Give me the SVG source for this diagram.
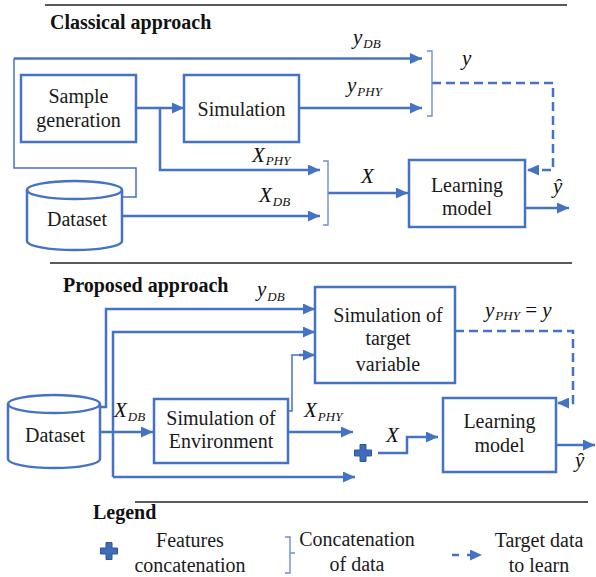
<svg xmlns="http://www.w3.org/2000/svg" width="596" height="577" viewBox="0 0 596 577">
<defs>
<marker id="ah" markerWidth="12" markerHeight="11" refX="12" refY="5.5" orient="auto" markerUnits="userSpaceOnUse"><path d="M0,0 L12,5.5 L0,11 z" fill="#4472C4"/></marker>
<path id="cross" d="M-3,-8.5 h6 v5.5 h5.5 v6 h-5.5 v5.5 h-6 v-5.5 h-5.5 v-6 h5.5 z" fill="#3F6CB8" stroke="#2F5597" stroke-width="1"/>
</defs>

<g id="separators" stroke="#222" stroke-width="1.5">
<line x1="45" y1="5" x2="567" y2="5"/>
<line x1="50" y1="263" x2="572" y2="263"/>
<line x1="135" y1="502" x2="588" y2="502"/>
</g>
<g id="headers" font-size="20" font-weight="bold" fill="#111">
<text x="50" y="29" font-family="'Liberation Serif'">Classical approach</text>
<text x="63" y="292" font-family="'Liberation Serif'">Proposed approach</text>
<text x="93" y="519" font-family="'Liberation Serif'">Legend</text>
</g>

<g id="connectors" fill="none" stroke="#4472C4" stroke-width="2.5">
<path stroke-width="1.5" d="M122,197 H136 V168 H14 V58.5"/>
<path d="M14,58.5 H422" marker-end="url(#ah)"/>
<path d="M136,108 H184" marker-end="url(#ah)"/>
<path d="M160,108 V170 H320" marker-end="url(#ah)"/>
<path d="M299,108 H422" marker-end="url(#ah)"/>
<path d="M122,216 H320" marker-end="url(#ah)"/>
<path d="M328,193 H408" marker-end="url(#ah)"/>
<path stroke-dasharray="9,5" d="M432,83 H553 V170 H527" marker-end="url(#ah)"/>
<path d="M525,208 H569" marker-end="url(#ah)"/>
<path stroke="#6E8FD0" stroke-width="1.4" d="M427,51 H432 V116 H427"/>
<path stroke="#6E8FD0" stroke-width="1.4" d="M323,161 H328 V225 H323"/>
<path d="M100,407 H106 V309 H315" marker-end="url(#ah)"/>
<path d="M113,477 V332 H315" marker-end="url(#ah)"/>
<path d="M113,477 H355" marker-end="url(#ah)"/>
<path d="M100,432 H153" marker-end="url(#ah)"/>
<path stroke-width="1.5" d="M288,411 H292 V355 H300"/>
<path d="M299,355 H315" marker-end="url(#ah)"/>
<path d="M288,432 H353" marker-end="url(#ah)"/>
<path d="M378,453 H407 V437 H438" marker-end="url(#ah)"/>
<path stroke-dasharray="9,5" d="M455,331 H573 V403 H557" marker-end="url(#ah)"/>
<path d="M556,445 H595" marker-end="url(#ah)"/>
</g>

<g id="labels" font-size="21" font-style="italic" fill="#111">
<text font-family="'Liberation Serif'" x="353" y="44">y<tspan font-size="13" dx="1" dy="4">DB</tspan></text>
<text font-family="'Liberation Serif'" x="347" y="92">y<tspan font-size="13" dx="1" dy="4">PHY</tspan></text>
<text font-family="'Liberation Serif'" x="462" y="65">y</text>
<text font-family="'Liberation Serif'" x="252" y="162">X<tspan font-size="13" dx="1" dy="3">PHY</tspan></text>
<text font-family="'Liberation Serif'" x="259" y="202">X<tspan font-size="13" dx="1" dy="4">DB</tspan></text>
<text font-family="'Liberation Serif'" x="361" y="183">X</text>
<text font-family="'Liberation Serif'" x="553" y="193">ŷ</text>
<text font-family="'Liberation Serif'" x="257" y="296">y<tspan font-size="13" dx="1" dy="5">DB</tspan></text>
<text font-family="'Liberation Serif'" x="485" y="317">y<tspan font-size="13" dx="1" dy="3">PHY</tspan><tspan dy="-3" font-style="normal"> = </tspan>y</text>
<text font-family="'Liberation Serif'" x="114" y="417">X<tspan font-size="13" dx="1" dy="4">DB</tspan></text>
<text font-family="'Liberation Serif'" x="304" y="417">X<tspan font-size="13" dx="1" dy="4">PHY</tspan></text>
<text font-family="'Liberation Serif'" x="386" y="442">X</text>
<text font-family="'Liberation Serif'" x="575" y="467">ŷ</text>
</g>

<g id="sample-generation" font-size="20" text-anchor="middle">
<rect x="21" y="75" width="115" height="67" fill="#fff" stroke="#4472C4" stroke-width="2.5"/>
<text font-family="'Liberation Serif'" fill="#1a1a1a" x="78.5" y="103">Sample</text>
<text font-family="'Liberation Serif'" fill="#1a1a1a" x="78.5" y="127">generation</text>
</g>
<g id="simulation" font-size="20" text-anchor="middle">
<rect x="184" y="75" width="115" height="67" fill="#fff" stroke="#4472C4" stroke-width="2.5"/>
<text font-family="'Liberation Serif'" fill="#1a1a1a" x="241.5" y="116">Simulation</text>
</g>
<g id="dataset-classical" font-size="20" text-anchor="middle">
<path d="M27,190 A47.5,9 0 0 1 122,190 V241 A47.5,9 0 0 1 27,241 Z" fill="#fff" stroke="#4472C4" stroke-width="2.5"/>
<path d="M27,190 A47.5,9 0 0 0 122,190" fill="none" stroke="#4472C4" stroke-width="2.5"/>
<text font-family="'Liberation Serif'" fill="#1a1a1a" x="77" y="226">Dataset</text>
</g>
<g id="learning-model-classical" font-size="20" text-anchor="middle">
<rect x="409" y="160" width="116" height="67" fill="#fff" stroke="#4472C4" stroke-width="2.5"/>
<text font-family="'Liberation Serif'" fill="#1a1a1a" x="467" y="192">Learning</text>
<text font-family="'Liberation Serif'" fill="#1a1a1a" x="467" y="215">model</text>
</g>

<g id="dataset-proposed" font-size="20" text-anchor="middle">
<path d="M8,404 A46,9 0 0 1 100,404 V459 A46,9 0 0 1 8,459 Z" fill="#fff" stroke="#4472C4" stroke-width="2.5"/>
<path d="M8,404 A46,9 0 0 0 100,404" fill="none" stroke="#4472C4" stroke-width="2.5"/>
<text font-family="'Liberation Serif'" fill="#1a1a1a" x="55" y="442">Dataset</text>
</g>
<g id="simulation-environment" font-size="20" text-anchor="middle">
<rect x="154" y="399" width="134" height="64" fill="#fff" stroke="#4472C4" stroke-width="2.5"/>
<text font-family="'Liberation Serif'" fill="#1a1a1a" x="221" y="425">Simulation of</text>
<text font-family="'Liberation Serif'" fill="#1a1a1a" x="221" y="448">Environment</text>
</g>
<g id="simulation-target" font-size="20" text-anchor="middle">
<rect x="315" y="287" width="140" height="96" fill="#fff" stroke="#4472C4" stroke-width="2.5"/>
<text font-family="'Liberation Serif'" fill="#1a1a1a" x="388" y="322">Simulation of</text>
<text font-family="'Liberation Serif'" fill="#1a1a1a" x="388" y="345">target</text>
<text font-family="'Liberation Serif'" fill="#1a1a1a" x="388" y="371">variable</text>
</g>
<g id="features-concatenation">
<use href="#cross" x="363" y="453"/>
</g>
<g id="learning-model-proposed" font-size="20" text-anchor="middle">
<rect x="443" y="398" width="113" height="74" fill="#fff" stroke="#4472C4" stroke-width="2.5"/>
<text font-family="'Liberation Serif'" fill="#1a1a1a" x="499.5" y="428">Learning</text>
<text font-family="'Liberation Serif'" fill="#1a1a1a" x="499.5" y="452">model</text>
</g>

<g id="legend" font-size="20" text-anchor="middle">
<use href="#cross" x="109" y="551"/>
<text font-family="'Liberation Serif'" fill="#1a1a1a" x="190" y="547">Features</text>
<text font-family="'Liberation Serif'" fill="#1a1a1a" x="190" y="572">concatenation</text>
<path d="M285,537 H290 V573 H285 M290,553 H295" fill="none" stroke="#6E8FD0" stroke-width="1.4"/>
<text font-family="'Liberation Serif'" fill="#1a1a1a" x="357" y="546">Concatenation</text>
<text font-family="'Liberation Serif'" fill="#1a1a1a" x="357" y="571">of data</text>
<path fill="none" stroke="#4472C4" stroke-width="2.5" stroke-dasharray="7,8" d="M452,555 H482" marker-end="url(#ah)"/>
<text font-family="'Liberation Serif'" fill="#1a1a1a" x="539" y="547">Target data</text>
<text font-family="'Liberation Serif'" fill="#1a1a1a" x="539" y="572">to learn</text>
</g>
</svg>
